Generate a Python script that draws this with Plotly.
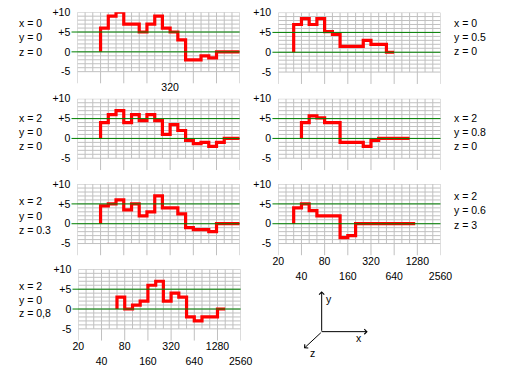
import math
import plotly.graph_objects as go

W, H = 507, 371

# ---------------- data ----------------
# third-octave grid frequencies (Hz)
GRID_FREQS = [20, 25.2, 31.7, 40, 50.4, 63.5, 80, 101, 127, 160, 202, 254,
              320, 403, 508, 640, 806, 1016, 1280, 1613, 2032, 2560]
OCTAVE_FREQS = [20, 40, 80, 160, 320, 640, 1280, 2560]
Y_GRID = list(range(-5, 11))
Y_TICKS = [10, 5, 0, -5]
Y_TICKTEXT = ['+10', '+5', '0', '-5']
GREEN_LEVELS = [0, 5]
X_TICKS_A = [20, 80, 320, 1280]
X_TICKS_A_TEXT = ['20', '80', '320', '1280']
X_TICKS_B = [40, 160, 640, 2560]
X_TICKS_B_TEXT = ['40', '160', '640', '2560']

# step curves: band edges (Hz) and levels
a_edges = [40, 50.4, 63.5, 80, 127, 160, 202, 254, 320, 403, 508, 806, 1016, 1280, 2560]
a_levels = [6, 9, 10, 7, 5, 7, 9, 6, 5, 3, -2, -1, -1.5, 0]

b_edges = [31.7, 40, 50.4, 63.5, 80, 101, 127, 254, 320, 508, 640]
b_levels = [7, 8.5, 7, 8.5, 5.2, 4.5, 1.5, 3, 2, 0]

c_edges = [40, 50.4, 63.5, 80, 101, 127, 160, 202, 254, 320, 403, 508, 640, 806, 1016, 1280, 1613, 2560]
c_levels = [4, 6, 7, 4, 6, 4.5, 6, 4.5, 1, 3.5, 2, -0.5, -1.3, -1, -2, -1, 0]

d_edges = [40, 50.4, 63.5, 80, 127, 254, 320, 403, 1016]
d_levels = [4, 5.7, 5.2, 4, -1, -2, -0.5, 0]

e_edges = [40, 50.4, 63.5, 80, 101, 127, 160, 202, 254, 403, 508, 640, 1016, 1280, 2560]
e_levels = [4.5, 5, 6, 3.5, 5, 2, 3, 7, 4, 2.5, -1, -1.5, -2, 0]

f_edges = [31.7, 40, 50.4, 63.5, 127, 160, 202, 1200]
f_levels = [4, 5, 3.3, 2, -3.5, -3, 0]

g_edges = [63.5, 80, 101, 127, 160, 202, 254, 320, 403, 508, 640, 806, 1280, 1613]
g_levels = [3, 0, 1, 2, 6, 7, 2, 4, 3, -2, -3, -2, 0]

a_text = ['x = 0', 'y = 0', 'z = 0']
b_text = ['x = 0', 'y = 0.5', 'z = 0']
c_text = ['x = 2', 'y = 0', 'z = 0']
d_text = ['x = 2', 'y = 0.8', 'z = 0']
e_text = ['x = 2', 'y = 0', 'z = 0.3']
f_text = ['x = 2', 'y = 0.6', 'z = 3']
g_text = ['x = 2', 'y = 0', 'z = 0,8']

# ---------------- layout (pixels) ----------------
PPU = 4.03
Y_MIN, Y_MAX = -8, 10
PH = (Y_MAX - Y_MIN) * PPU

panels = [
    dict(edges=a_edges, levels=a_levels, text=a_text, x0=74, x1=242.3, top=6.3, tx=11.7, ty=[17.3, 32.0, 46.3], ticks='320'),
    dict(edges=b_edges, levels=b_levels, text=b_text, x0=282.3, x1=450.5, top=6.7, tx=462.3, ty=[17.3, 32.0, 46.0], ticks=None),
    dict(edges=c_edges, levels=c_levels, text=c_text, x0=74, x1=242.3, top=94.3, tx=11.7, ty=[113.5, 128.0, 142.5], ticks=None),
    dict(edges=d_edges, levels=d_levels, text=d_text, x0=282.3, x1=450.5, top=94.3, tx=462.3, ty=[113.5, 128.0, 142.5], ticks=None),
    dict(edges=e_edges, levels=e_levels, text=e_text, x0=74, x1=242.3, top=181, tx=11.7, ty=[198.5, 213.0, 227.5], ticks=None),
    dict(edges=f_edges, levels=f_levels, text=f_text, x0=282.3, x1=450.5, top=181, tx=462.3, ty=[193.3, 207.8, 222.3], ticks='full'),
    dict(edges=g_edges, levels=g_levels, text=g_text, x0=75, x1=243.3, top=267.7, tx=11.7, ty=[284.5, 298.5, 312.5], ticks='full'),
]

FONT = dict(family='Liberation Sans, Arial, sans-serif', size=10.5, color='black')
GRAY = '#C0C0C0'
GREEN = '#008000'
RED = '#FF0000'

fig = go.Figure()
layout = dict(width=W, height=H, margin=dict(l=0, r=0, t=0, b=0),
              paper_bgcolor='white', plot_bgcolor='white', showlegend=False,
              font=FONT)
shapes = []
annotations = []
extra_axis = 8

for i, p in enumerate(panels, start=1):
    xs = '' if i == 1 else str(i)
    xref, yref = 'x' + xs, 'y' + xs
    bottom = p['top'] + PH
    # grid
    gx, gy = [], []
    for yv in Y_GRID:
        gx += [GRID_FREQS[0], GRID_FREQS[-1], None]
        gy += [yv, yv, None]
    for f in GRID_FREQS:
        gx += [f, f, None]
        gy += [Y_MIN if f in OCTAVE_FREQS else -5, Y_MAX, None]
    fig.add_trace(go.Scatter(x=gx, y=gy, mode='lines', xaxis=xref, yaxis=yref,
                             line=dict(color=GRAY, width=1), hoverinfo='skip'))
    # step curve
    cx = [p['edges'][0]] + p['edges']
    cy = [0] + p['levels'] + [p['levels'][-1]]
    fig.add_trace(go.Scatter(x=cx, y=cy, mode='lines', line_shape='hv', xaxis=xref, yaxis=yref,
                             line=dict(color=RED, width=3.2), hoverinfo='skip'))
    # green reference lines
    for lv in GREEN_LEVELS:
        shapes.append(dict(type='line', xref=xref + ' domain', x0=-0.036, x1=1,
                           yref=yref, y0=lv, y1=lv, layer='above',
                           line=dict(color=GREEN, width=1)))
    xa = dict(type='log', range=[math.log10(20), math.log10(2560)],
              domain=[p['x0'] / W, p['x1'] / W], anchor=yref,
              showgrid=False, zeroline=False, showline=False, ticks='',
              showticklabels=False, tickfont=FONT)
    if p['ticks'] == '320':
        xa.update(showticklabels=True, tickvals=[320], ticktext=['320'], ticklabelstandoff=-4)
    elif p['ticks'] == 'full':
        xa.update(showticklabels=True, tickvals=X_TICKS_A, ticktext=X_TICKS_A_TEXT, ticklabelstandoff=-2)
        # second staggered row of labels on an overlaid axis
        key = 'x' + str(extra_axis)
        layout['xaxis' + str(extra_axis)] = dict(
            type='log', range=[math.log10(20), math.log10(2560)],
            overlaying=xref, anchor='free', position=1 - (bottom + 13) / H,
            showgrid=False, zeroline=False, showline=False, ticks='',
            tickvals=X_TICKS_B, ticktext=X_TICKS_B_TEXT, tickfont=FONT)
        fig.add_trace(go.Scatter(x=[20], y=[0], mode='markers', xaxis=key, yaxis=yref,
                                 marker=dict(opacity=0), hoverinfo='skip'))
        extra_axis += 1
    ya = dict(range=[Y_MIN, Y_MAX], domain=[1 - bottom / H, 1 - p['top'] / H], anchor=xref,
              showgrid=False, zeroline=False, showline=False,
              tickvals=Y_TICKS, ticktext=Y_TICKTEXT, ticks='outside', ticklen=4,
              tickcolor='rgba(0,0,0,0)', tickfont=FONT)
    layout['xaxis' + xs] = xa
    layout['yaxis' + xs] = ya
    for t, ty in zip(p['text'], p['ty']):
        annotations.append(dict(text=t, xref='paper', yref='paper', x=p['tx'] / W, y=1 - ty / H,
                                xanchor='left', yanchor='middle', showarrow=False, font=FONT))

# 3D axis icon
icon = [(327.3, 290, 0, 41), (375, 331, -47.7, 0), (309, 348, 18.3, -17)]
for hx, hy, ax, ay in icon:
    annotations.append(dict(text='', xref='paper', yref='paper', x=hx / W, y=1 - hy / H,
                            ax=ax, ay=ay, axref='pixel', ayref='pixel', showarrow=True,
                            arrowhead=4, arrowsize=1, arrowwidth=1, arrowcolor='black',
                            standoff=0, startstandoff=0))
for t, lx, ly in [('y', 335, 298.3), ('x', 366, 337.7), ('z', 318.3, 352.3)]:
    annotations.append(dict(text=t, xref='paper', yref='paper', x=lx / W, y=1 - ly / H,
                            xanchor='center', yanchor='middle', showarrow=False, font=FONT))

layout['shapes'] = shapes
layout['annotations'] = annotations
fig.update_layout(**layout)
fig.write_html('out.html',
               config={'displayModeBar': False, 'staticPlot': True},
               post_script="document.body.style.margin='0';document.body.style.padding='0';"
                           "document.body.style.overflow='hidden';")
